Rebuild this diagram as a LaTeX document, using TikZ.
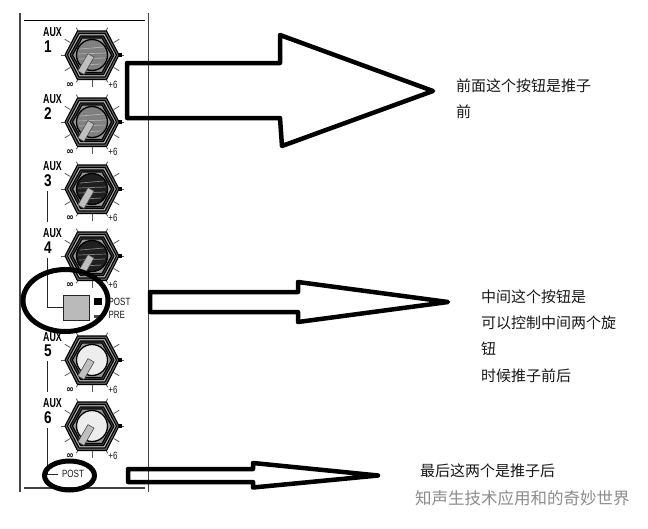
\documentclass[tikz,border=0pt]{standalone}
\usepackage{fontspec}
\setmainfont{Liberation Sans}
\newfontfamily\cjk{Noto Sans CJK SC}
\newfontfamily\sym{DejaVu Sans}
\usetikzlibrary{shapes.geometric}
\definecolor{panel}{HTML}{444444}
\tikzset{
  note/.style={font=\cjk\fontsize{15}{16}\selectfont,anchor=west,inner sep=0pt,text=black!90},
  bigarrow/.style={draw=black,line width=4.5pt,line join=round},
  panelline/.style={draw=panel,line width=1.6pt},
  thinline/.style={draw=black!85,line width=.9pt},
  auxlabel/.style={font=\bfseries\fontsize{13}{13}\selectfont,xscale=.68,inner sep=0pt,text=black},
  auxnum/.style={font=\bfseries\fontsize{17}{17}\selectfont,xscale=.8,inner sep=0pt,text=black},
  minilabel/.style={font=\fontsize{10.5}{11}\selectfont,xscale=.76,inner sep=0pt,text=black!90},
  mark label/.style={font=\sym\bfseries\fontsize{9.5}{10}\selectfont,inner sep=0pt,text=black},
  tick line/.style={draw=black!65,line width=.8pt},
  hexa/.style={draw=black,line width=1.1pt,line join=round},
  wm/.style={font=\cjk\fontsize{16.5}{18}\selectfont,inner sep=0pt,anchor=west}
}
\newcommand{\knob}[5]{% name, cx, cy, dial colour, stripe colour
  \begin{scope}[shift={(#2,#3)}]
    \foreach \ang in {-150,-120,...,150}{
      \draw[tick line] (\ang+90:25) -- (\ang+90:31.5);
    }
    \fill[black] (26,-2) rectangle (30,2);
    \draw[hexa,fill=black!60] (-27,0) -- (-14.5,-24) -- (14.5,-24) -- (27,0) -- (14.5,24.5) -- (-14.5,24.5) -- cycle;
    \draw[hexa,fill=black!30] (-24.5,0) -- (-13,-21.5) -- (13,-21.5) -- (24.5,0) -- (13,22) -- (-13,22) -- cycle;
    \draw[hexa,fill=black!75] (-22,0) -- (-11.5,-19) -- (11.5,-19) -- (22,0) -- (11.5,19.5) -- (-11.5,19.5) -- cycle;
    \draw[hexa,fill=black!40] (-19.5,0) -- (-10,-17) -- (10,-17) -- (19.5,0) -- (10,17.5) -- (-10,17.5) -- cycle;
    \draw[draw=black,line width=1.3pt,fill=#4] (0,0) circle (15.5);
    \draw[#5,line width=.7pt] (-12,-6) -- (12,-8) (-14,-1) -- (14,-2) (-13,4) -- (13,3) (-9,10) -- (9,9);
    \node[draw=black!70,line width=.6pt,fill=black!25,rectangle,minimum width=7pt,minimum height=20pt,inner sep=0pt,rotate=-30] (#1) at (-6,9) {};
  \end{scope}
}
\newcommand{\auxlbl}[3]{%
  \node[auxlabel] (aux#1) at (52.5,#2) {AUX};
  \node[auxnum] (num#1) at (48,#3) {#1};
}
\newcommand{\scalelbl}[2]{%
  \node[mark label] (inf#1) at (70,#2) {∞};
  \node[minilabel] (plus#1) at (113,#2) {+6};
}
\begin{document}
\begin{tikzpicture}[x=1pt,y=-1pt]
\useasboundingbox (0,0) rectangle (648,528);
\fill[white] (0,0) rectangle (648,528);
% panel
\coordinate (pl1) at (20,13); \coordinate (pl2) at (20,492);
\coordinate (pr1) at (148.5,13); \coordinate (pr2) at (148.5,492);
\coordinate (pt1) at (24,20); \coordinate (pt2) at (145,20);
\coordinate (pb1) at (24,488); \coordinate (pb2) at (145,488);
\draw[panelline] (pl1) -- (pl2);
\draw[panelline] (pr1) -- (pr2);
\draw[draw=black,line width=1pt] (pt1) -- (pt2);
\draw[panelline] (pb1) -- (pb2);
% knobs
\knob{p1}{92}{55}{black!50}{black!30}
\knob{p2}{92}{122}{black!50}{black!30}
\knob{p3}{92}{189}{black!88}{black!50}
\knob{p4}{92}{256}{black!88}{black!50}
\knob{p5}{92}{360}{black!7}{black!7}
\knob{p6}{92}{426}{black!7}{black!7}
\auxlbl{1}{32}{47}
\auxlbl{2}{99}{114}
\auxlbl{3}{166}{181}
\auxlbl{4}{233}{248}
\auxlbl{5}{337}{351}
\auxlbl{6}{403}{418}
\scalelbl{1}{85}
\scalelbl{2}{152}
\scalelbl{3}{218}
\scalelbl{4}{285}
\scalelbl{5}{390}
\scalelbl{6}{456}
% switch wiring
\coordinate (w3a) at (47.5,191); \coordinate (w3b) at (47.5,222);
\coordinate (w4a) at (47.5,258);
\coordinate (w5a) at (47.5,361); \coordinate (w5b) at (47.5,392);
\coordinate (w6a) at (47.5,428);
\draw[thinline] (w3a) -- (w3b);
\node[draw=black!85,line width=.9pt,fill=black!27,minimum width=26pt,minimum height=25pt,inner sep=0pt] (btn) at (76,307.5) {};
\draw[thinline] (w4a) |- (btn.west);
\draw[thinline] (w5a) -- (w5b);
\node[fill=black,minimum width=8pt,minimum height=7pt,inner sep=0pt] (ledpost) at (98,301.5) {};
\node[fill=black!70,minimum width=8pt,minimum height=3pt,inner sep=0pt] (ledpre) at (98,316.5) {};
\node[minilabel,anchor=west] (lpost) at (108.5,302) {POST};
\node[minilabel,anchor=west] (lpre) at (108.5,315) {PRE};
\node[minilabel,anchor=west] (lpost2) at (62,474) {POST};
\coordinate (w6e) at (58,474);
\draw[thinline] (w6a) |- (w6e);
% rings
\node[ellipse,draw=black,line width=5pt,minimum width=85pt,minimum height=62pt,inner sep=0pt] (ring1) at (65.5,300.5) {};
\node[ellipse,draw=black,line width=5pt,minimum width=50pt,minimum height=29pt,inner sep=0pt] (ring2) at (69.5,475.5) {};
% arrows
\draw[bigarrow] (127,63) -- (280,63) -- (280,35) -- (433,91) -- (282,146) -- (280,118) -- (127,118) -- cycle;
\draw[bigarrow] (150,292) -- (298,292) -- (298,282) -- (448,302) -- (298,322) -- (298,312) -- (150,312) -- cycle;
\draw[bigarrow] (128,469) -- (253,469) -- (253,463) -- (378,475.5) -- (253,487.5) -- (253,482) -- (128,482) -- cycle;
% notes
\node[note] (n1) at (456,86) {前面这个按钮是推子};
\node[note] (n2) at (456,112) {前};
\node[note] (n3) at (481,297) {中间这个按钮是};
\node[note] (n4) at (481,323) {可以控制中间两个旋};
\node[note] (n5) at (481,349) {钮};
\node[note] (n6) at (481,376) {时候推子前后};
\node[note] (n7) at (420,471) {最后这两个是推子后};
% watermark
\node[wm,text=black!45] (wm1) at (415,498) {知声生技术应用和的奇妙世界};
\end{tikzpicture}
\end{document}
